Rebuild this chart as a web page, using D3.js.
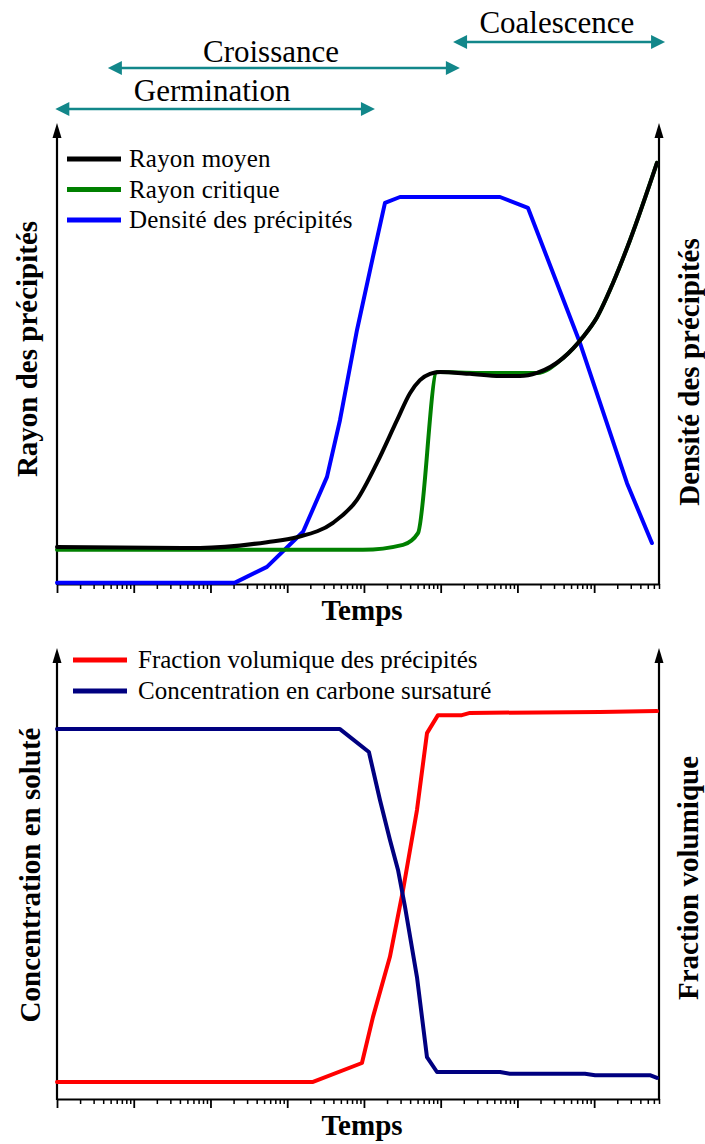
<!DOCTYPE html>
<html>
<head>
<meta charset="utf-8">
<script src="https://cdn.jsdelivr.net/npm/d3@7"></script>
<style>
  body { margin: 0; background: #fff; }
  svg { display: block; }
  text { font-family: "Liberation Serif", "Times New Roman", serif; fill: #000; }
</style>
</head>
<body>
<svg id="chart" width="705" height="1144"></svg>
<script>
// ---- Data: [temps, valeur] (unités arbitraires, 0-100) ----
const rayonMoyen = [[1,8.2],[73,8.0],[545,9.3],[1340,10.4],[3950,13.6],[8110,18.7],[14800,26.9],
  [27000,36.4],[39800,42.4],[53700,45.3],[72600,46.7],[98000,47.1],[241000,46.7],[593000,46.2],
  [1.08e6,46.2],[1.8e6,46.9],[3.92e6,50.2],[7.15e6,54.9],[1.09e7,59.3],[1.76e7,66.9],[2.93e7,76.4],[6.59e7,93.6]];
const rayonCritique = [[1,7.6],[9710,7.6],[32300,8.7],[50600,11.3],[89500,47.1],[325000,46.9],
  [1.8e6,46.9],[3.92e6,50.2],[7.15e6,54.9],[1.09e7,59.3],[1.76e7,66.9],[2.93e7,76.4],[6.59e7,93.6]];
const densite = [[1,0.3],[209,0.3],[545,3.8],[1610,11.6],[3300,23.8],[4870,36.4],[8110,56.4],
  [13100,72.7],[18800,84.7],[29500,86.0],[593000,86.0],[1.37e6,83.6],[6.53e6,53.6],[2.68e7,22.4],[5.66e7,9.1]];
const fractionVolumique = [[1,3.8],[2170,3.8],[9420,8.0],[13100,18.2],[21800,31.6],[32300,46.4],
  [49100,64.2],[66300,81.3],[92200,85.3],[189000,85.3],[241000,85.8],[1.19e7,86.0],[6.59e7,86.2]];
const concentration = [[1,82.2],[4870,82.2],[11600,77.1],[16200,66.4],[21800,57.6],[27800,50.9],
  [34300,42.7],[49100,27.1],[66300,9.3],[89500,6.0],[593000,6.0],[800000,5.6],[7.59e6,5.6],
  [1.03e7,5.3],[5.33e7,5.3],[6.59e7,4.7]];

// Phases (début, fin, position du libellé en temps)
const phaseNames = ["Germination", "Croissance", "Coalescence"];
const phaseStart = [0.95, 4.6, 145000];
const phaseEnd = [13900, 178000, 8.4e7];
const phaseLabelAt = [105, 615, 3.27e6];

const topLegend = ["Rayon moyen", "Rayon critique", "Densité des précipités"];
const bottomLegend = ["Fraction volumique des précipités", "Concentration en carbone sursaturé"];

const svg = d3.select("#chart");
const teal = "#12878a";

const x = d3.scaleLog().domain([1, 7e7]).range([57, 659]);
const majorTicks = d3.range(0, 8).map(e => Math.pow(10, e));
const minorTicks = [];
for (let e = 0; e < 8; e++) for (let k = 2; k <= 9; k++) {
  const v = k * Math.pow(10, e);
  if (v <= 7e7) minorTicks.push(v);
}

// ---- Phase arrows ----
const phaseY = [109, 68, 42];
const phaseTextY = [101, 62, 33];
const arrowHead = (g, tipX, y, dir) => {
  g.append("path")
    .attr("d", `M${tipX},${y} L${tipX - dir * 14},${y - 7} L${tipX - dir * 14},${y + 7} Z`)
    .attr("fill", teal);
};
phaseNames.forEach((name, i) => {
  const g = svg.append("g");
  const x0 = x(phaseStart[i]), x1 = x(phaseEnd[i]);
  g.append("line").attr("x1", x0 + 8).attr("x2", x1 - 8)
    .attr("y1", phaseY[i]).attr("y2", phaseY[i])
    .attr("stroke", teal).attr("stroke-width", 2.5);
  arrowHead(g, x0, phaseY[i], -1);
  arrowHead(g, x1, phaseY[i], 1);
  g.append("text").attr("x", x(phaseLabelAt[i])).attr("y", phaseTextY[i])
    .attr("text-anchor", "middle").attr("font-size", 31).text(name);
});

// ---- Panel builder ----
function panel(opts) {
  const y = d3.scaleLinear().domain([0, 100]).range([opts.axisY, opts.axisY - 450]);
  const g = svg.append("g");

  // x axis: major and minor ticks
  g.append("g").attr("transform", `translate(0,${opts.axisY})`)
    .call(d3.axisBottom(x).tickValues(minorTicks).tickSize(5).tickSizeOuter(0).tickFormat(""))
    .call(a => a.select(".domain").remove())
    .call(a => a.selectAll("line").attr("stroke-width", 1.5));
  g.append("g").attr("transform", `translate(0,${opts.axisY})`)
    .call(d3.axisBottom(x).tickValues(majorTicks).tickSize(9).tickSizeOuter(0).tickFormat(""))
    .call(a => a.select(".domain").attr("stroke-width", 2.2))
    .call(a => a.selectAll("line").attr("stroke-width", 1.8));

  // vertical axes with arrow heads
  [x.range()[0], x.range()[1]].forEach(ax => {
    g.append("line").attr("x1", ax).attr("x2", ax)
      .attr("y1", opts.axisY + 1).attr("y2", opts.topY + 8)
      .attr("stroke", "#000").attr("stroke-width", 2.2);
    g.append("path")
      .attr("d", `M${ax},${opts.topY} L${ax - 4.5},${opts.topY + 15} L${ax + 4.5},${opts.topY + 15} Z`)
      .attr("fill", "#000");
  });

  // series
  opts.series.forEach(s => {
    g.append("path").datum(s.data)
      .attr("fill", "none").attr("stroke", s.color).attr("stroke-width", 4)
      .attr("stroke-linejoin", "round").attr("stroke-linecap", "round")
      .attr("d", d3.line().x(d => x(d[0])).y(d => y(d[1])).curve(s.curve || d3.curveLinear));
  });

  // legend
  opts.legend.forEach((name, i) => {
    const ly = opts.legendY + i * opts.legendStep;
    g.append("line").attr("x1", opts.legendX).attr("x2", opts.legendX + 54)
      .attr("y1", ly).attr("y2", ly)
      .attr("stroke", opts.series[opts.legendOrder[i]].color).attr("stroke-width", 5);
    g.append("text").attr("x", opts.legendTextX).attr("y", ly + 8)
      .attr("font-size", 25).attr("letter-spacing", opts.legendSpacing).text(name);
  });

  // axis titles
  g.append("text").attr("x", 362).attr("y", opts.axisY + 36)
    .attr("text-anchor", "middle").attr("font-size", 29).attr("font-weight", "bold").text("Temps");
  g.append("text").attr("transform", `translate(${opts.leftTitle[1]},${opts.leftTitle[2]}) rotate(-90)`)
    .attr("text-anchor", "middle").attr("dy", "0.35em")
    .attr("font-size", 29).attr("font-weight", "bold").text(opts.leftTitle[0]);
  g.append("text").attr("transform", `translate(${opts.rightTitle[1]},${opts.rightTitle[2]}) rotate(-90)`)
    .attr("text-anchor", "middle").attr("dy", "0.35em")
    .attr("font-size", 29).attr("font-weight", "bold").text(opts.rightTitle[0]);
}

panel({
  axisY: 584, topY: 123,
  series: [
    { data: densite, color: "#0000ff" },
    { data: rayonCritique, color: "#008000", curve: d3.curveMonotoneX },
    { data: rayonMoyen, color: "#000000", curve: d3.curveMonotoneX }
  ],
  legend: topLegend, legendOrder: [2, 1, 0],
  legendX: 67, legendTextX: 129, legendY: 159, legendStep: 30.5, legendSpacing: 0.2,
  leftTitle: ["Rayon des précipités", 27, 349],
  rightTitle: ["Densité des précipités", 689, 372]
});

panel({
  axisY: 1099, topY: 648,
  series: [
    { data: fractionVolumique, color: "#ff0000" },
    { data: concentration, color: "#000080" }
  ],
  legend: bottomLegend, legendOrder: [0, 1],
  legendX: 73, legendTextX: 138, legendY: 660, legendStep: 31, legendSpacing: 0,
  leftTitle: ["Concentration en soluté", 30, 875],
  rightTitle: ["Fraction volumique", 688, 878]
});
</script>
</body>
</html>
